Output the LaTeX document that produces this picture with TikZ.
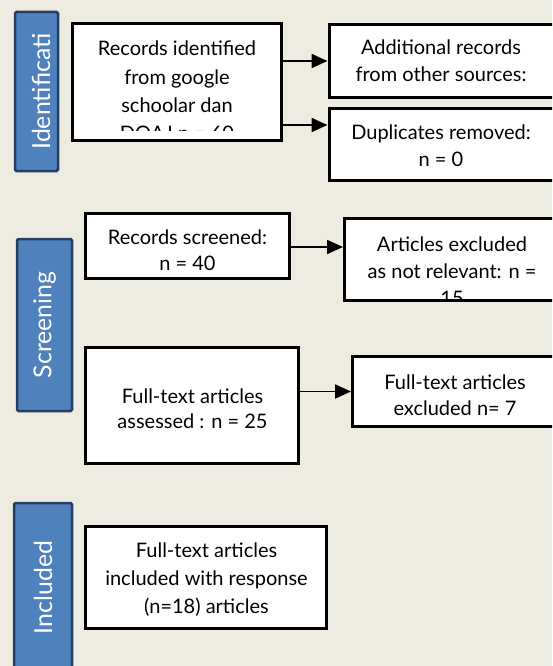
\documentclass[tikz,border=0pt]{standalone}
\usepackage{fontspec}
\setmainfont{Lato}
\usetikzlibrary{arrows.meta,calc}
\definecolor{bg}{HTML}{EEECE1}
\definecolor{barfill}{HTML}{4F81BD}
\definecolor{barline}{HTML}{243F60}
\begin{document}
\begin{tikzpicture}[x=1pt,y=-1pt,
  box/.style={draw=black, line width=3pt, fill=white, inner sep=0pt},
  bar/.style={draw=barline, line width=2.5pt, fill=barfill, rounded corners=1.5pt, inner sep=0pt},
  lab/.style={text=white, rotate=90, font=\fontsize{24.8}{28}\selectfont, inner sep=0pt},
  txt/.style={align=center, font=\fontsize{20}{27}\selectfont, inner sep=0pt},
  arr/.style={line width=1.8pt, -{Triangle[length=16pt,width=14pt]}}]
\useasboundingbox (0,0) rectangle (552,666);
\clip (0,0) rectangle (552,666);
\fill[bg] (0,0) rectangle (552,666);

% phase bars
\node[bar, minimum width=43pt, minimum height=159pt] (b1) at (36.5,91.5) {};
\node[lab] (l1) at (41,91.5) {Identificati};
\node[bar, minimum width=55pt, minimum height=172pt] (b2) at (44.5,325) {};
\node[lab] (l2) at (44.5,325) {Screening};
\node[bar, minimum width=58pt, minimum height=169pt] (b3) at (43,587.5) {};
\node[lab] (l3) at (43,587.5) {Included};

% boxes
\node[box, minimum width=209pt, minimum height=117pt] (rec) at (177,82) {};
\begin{scope}
  \clip (73,24) rectangle (281,130);
  \node[txt, font=\fontsize{20}{28.3}\selectfont] (rect) at (177,91) {Records identified\\from google\\schoolar dan\\DOAJ n = 60};
\end{scope}
\node[box, minimum width=226pt, minimum height=73pt] (add) at (442,61) {};
\node[txt] (addt) at (441,60.5) {Additional records\\from other sources:};
\node[box, minimum width=226pt, minimum height=72pt] (dup) at (442,144.5) {};
\node[txt] (dupt) at (441,146) {Duplicates removed:\\n = 0};

\node[box, minimum width=204pt, minimum height=65pt] (scr) at (187.5,246) {};
\node[txt, font=\fontsize{20}{26}\selectfont] (scrt) at (187.5,250.5) {Records screened:\\n = 40};
\node[box, minimum width=215pt, minimum height=82pt] (exc) at (452,259.5) {};
\begin{scope}
  \clip (345,219) rectangle (560,298.5);
  \node[txt] (exct) at (452,271.5) {Articles excluded\\as not relevant: n =\\15};
\end{scope}

\node[box, minimum width=213pt, minimum height=116pt] (fta) at (192,405.5) {};
\node[txt, font=\fontsize{20}{25}\selectfont] (ftat) at (192.5,408.5) {Full-text articles\\assessed : n = 25};
\node[box, minimum width=205pt, minimum height=70pt] (fte) at (455,391.5) {};
\node[txt, font=\fontsize{20}{25.5}\selectfont] (ftet) at (455,395) {Full-text articles\\excluded n= 7};

\node[box, minimum width=241pt, minimum height=102pt] (inc) at (206,577.5) {};
\node[txt, font=\fontsize{20}{28}\selectfont] (inct) at (206.5,579.5) {Full-text articles\\included with response\\(n=18) articles};

% connectors
\coordinate (dupin) at ([yshift=19.5pt]dup.west);
\draw[arr] (rec.east |- add.west) -- (add.west);
\draw[arr] (rec.east |- dupin) -- (dupin);
\coordinate (excin) at ([yshift=12.5pt]exc.west);
\draw[arr] (scr.east |- excin) -- (excin);
\draw[arr] (fta.east |- fte.west) -- (fte.west);
\end{tikzpicture}
\end{document}
